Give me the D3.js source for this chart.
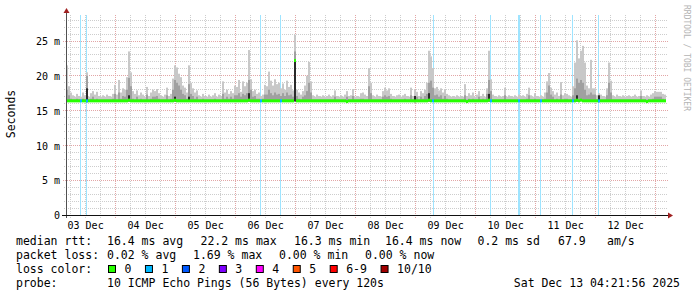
<!DOCTYPE html>
<meta charset="utf-8">

<script src="https://d3js.org/d3.v7.min.js"></script>

<style type="text/css">

body { margin:0; background:#fff; }
svg { display:block; font-family:"DejaVu Sans Mono", monospace; }
.legend text { font-size:11.5px; fill:#000; }
.axis text { font-family:"DejaVu Sans Mono", monospace; font-size:10px; fill:#000; }

</style>

<body>
</body>

<script>

// ten days ending Sat Dec 13 04:21:56 2025, one column every 48 minutes
var startTime = Date.UTC(2025, 11, 3, 4, 21, 56);
var endTime = Date.UTC(2025, 11, 13, 4, 21, 56);
var stepMs = 48 * 60 * 1000;

// median rtt per column (ms)
var medianRtt = [
  16.4,16.4,16.4,16.4,16.4,16.4,16.4,16.4,16.4,16.4,16.4,16.4,16.4,16.4,16.4,16.4,16.4,16.4,16.4,16.4,
  16.4,16.4,16.4,16.4,16.4,16.4,16.4,16.4,16.4,16.4,16.4,16.5,16.4,16.4,16.4,16.4,16.4,16.4,16.4,16.4,
  16.4,16.4,16.4,16.4,16.4,16.4,16.4,16.4,16.4,16.4,16.4,16.4,16.4,16.4,16.5,16.4,16.4,16.4,16.4,16.4,
  16.4,16.4,16.4,16.4,16.4,16.4,16.4,16.4,16.4,16.4,16.4,16.4,16.4,16.4,16.4,16.4,16.4,16.4,16.4,16.4,
  16.4,16.4,16.4,16.4,16.4,16.4,16.4,16.4,16.4,16.4,16.4,16.5,16.4,16.4,16.4,16.4,16.4,16.4,16.4,16.4,
  16.4,16.4,16.4,16.4,16.4,16.4,16.4,16.4,16.4,16.4,16.4,16.4,16.4,16.4,22.2,16.4,16.4,16.4,16.4,16.4,
  16.4,16.4,16.4,16.4,16.4,16.4,16.4,16.4,16.4,16.4,16.4,16.4,16.4,16.4,16.4,16.4,16.4,16.4,16.4,16.4,
  16.3,16.4,16.4,16.4,16.4,16.4,16.4,16.4,16.4,16.4,16.4,16.4,16.4,16.4,16.4,16.4,16.4,16.4,16.4,16.4,
  16.4,16.4,16.4,16.4,16.4,16.4,16.4,16.4,16.4,16.4,16.4,16.4,16.4,16.4,16.4,16.4,16.4,16.4,16.4,16.4,
  16.4,16.5,16.4,16.4,16.4,16.4,16.4,16.4,16.4,16.4,16.4,16.4,16.4,16.4,16.4,16.4,16.4,16.4,16.4,16.4,
  16.3,16.4,16.4,16.4,16.4,16.4,16.4,16.4,16.4,16.4,16.4,16.5,16.4,16.4,16.4,16.4,16.4,16.4,16.4,16.4,
  16.4,16.4,16.4,16.4,16.4,16.4,16.4,16.4,16.4,16.4,16.4,16.4,16.4,16.4,16.4,16.4,16.4,16.4,16.4,16.4,
  16.4,16.4,16.4,16.4,16.4,16.4,16.4,16.4,16.4,16.4,16.4,16.4,16.4,16.4,16.4,16.5,16.4,16.5,16.4,16.4,
  16.4,16.4,16.4,16.4,16.4,16.4,16.4,16.4,16.4,16.4,16.4,16.4,16.4,16.4,16.4,16.4,16.4,16.4,16.4,16.4,
  16.4,16.4,16.4,16.4,16.4,16.4,16.4,16.4,16.4,16.4,16.3,16.4,16.4,16.4,16.4,16.4,16.4,16.4,16.4,16.4
];

// slowest ping per column (top of the light smoke)
var maxRtt = [
  21.5,18.5,17.6,17.2,17.0,17.4,17.1,17.0,17.6,17.2,20.5,17.0,17.5,17.8,17.3,17.7,17.1,17.0,17.2,17.0,
  17.3,17.1,17.0,17.4,18.7,17.3,19.4,17.6,18.2,18.0,19.8,23.5,20.5,17.8,17.4,17.9,17.2,17.6,17.3,17.0,
  18.4,17.1,17.6,18.0,17.8,18.1,17.5,17.2,17.0,17.3,18.3,17.1,17.4,19.6,21.5,21.2,20.3,19.8,18.6,18.3,
  17.6,21.5,19.0,18.2,17.6,17.9,17.2,17.0,17.4,17.1,17.0,17.3,17.0,17.2,17.5,17.0,17.3,17.1,19.2,17.6,
  18.0,17.4,17.8,17.5,18.6,18.4,19.4,17.7,19.2,18.5,19.0,23.7,19.5,17.8,18.0,17.4,17.6,17.1,17.3,18.7,
  18.5,20.6,19.3,18.6,19.5,18.8,19.0,18.2,18.9,18.0,19.3,18.4,18.7,17.9,25.9,18.0,17.6,17.3,17.8,18.6,
  20.0,22.0,19.2,17.2,17.0,17.3,17.1,17.0,17.2,17.0,17.1,17.3,17.0,17.2,17.9,17.1,17.0,17.2,17.0,17.3,
  17.8,17.1,17.2,18.1,17.0,17.1,17.0,17.5,17.6,17.3,17.1,21.1,19.0,17.2,17.0,17.3,17.1,17.0,17.8,18.3,
  17.9,18.2,17.4,17.1,17.0,17.2,17.3,17.0,17.2,17.4,17.1,17.0,18.3,17.1,18.0,17.7,17.1,17.8,17.5,18.0,
  19.0,23.6,22.8,21.1,18.2,18.4,17.9,18.2,17.6,18.0,17.4,17.2,17.0,17.1,17.0,17.2,17.0,17.1,17.0,18.8,
  17.1,17.5,17.2,17.6,17.0,17.3,17.8,17.1,17.4,17.0,18.2,23.6,19.5,17.3,17.1,17.0,17.2,17.0,17.1,18.3,
  17.0,17.2,17.1,17.0,17.2,17.0,17.3,17.1,17.2,17.0,17.4,18.3,17.2,17.0,17.5,17.1,17.0,17.2,17.0,17.6,
  19.2,20.4,18.3,17.8,17.3,17.6,17.1,19.1,17.2,17.5,17.4,17.2,17.0,18.5,21.9,25.1,22.5,23.6,24.3,21.9,
  18.6,18.2,22.3,18.2,18.2,17.2,17.5,17.3,17.1,17.0,18.2,21.9,19.3,17.2,17.0,17.3,17.1,17.0,17.2,17.0,
  17.1,17.2,17.0,17.1,17.3,17.0,17.1,17.9,17.1,17.0,17.2,17.0,17.3,17.5,17.8,17.7,17.7,17.7,17.4,17.3
];

// upper pings per column (top of the darker smoke)
var upperRtt = [
  18.0,17.2,16.7,16.6,16.6,16.7,16.6,16.6,16.7,16.6,20.0,16.6,16.7,17.0,16.6,16.7,16.6,16.6,16.6,16.6,
  16.6,16.6,16.6,16.7,17.4,16.6,17.6,16.7,17.1,17.0,18.0,19.7,18.5,16.7,16.6,17.0,16.6,16.7,16.6,16.6,
  17.3,16.6,16.7,17.0,17.0,17.1,16.7,16.6,16.6,16.6,17.2,16.6,16.7,18.0,19.4,19.0,18.6,18.0,17.4,17.2,
  16.7,18.8,17.4,17.1,16.7,17.0,16.6,16.6,16.7,16.6,16.6,16.6,16.6,16.6,16.7,16.6,16.6,16.6,17.4,16.7,
  17.0,16.7,17.0,16.7,17.2,17.2,17.5,17.0,17.4,17.2,17.5,19.4,18.0,17.0,17.1,16.7,16.7,16.6,16.7,17.3,
  17.3,18.0,17.5,17.2,17.6,17.3,17.4,17.1,17.5,17.1,17.6,17.2,17.3,17.0,23.5,17.1,16.7,16.6,17.0,17.2,
  17.8,19.0,17.6,16.6,16.6,16.6,16.6,16.6,16.6,16.6,16.6,16.6,16.6,16.6,17.0,16.6,16.6,16.6,16.6,16.6,
  17.0,16.6,16.6,17.1,16.6,16.6,16.6,16.7,16.7,16.6,16.6,18.5,17.5,16.6,16.6,16.6,16.6,16.6,17.0,17.2,
  17.0,17.1,16.7,16.6,16.6,16.6,16.6,16.6,16.6,16.7,16.6,16.6,17.2,16.6,17.1,17.0,16.6,17.0,16.7,17.1,
  17.4,19.0,19.3,18.3,17.2,17.3,17.0,17.2,16.7,17.1,16.7,16.6,16.6,16.6,16.6,16.6,16.6,16.6,16.6,17.2,
  16.6,16.7,16.6,16.7,16.6,16.6,17.0,16.6,16.7,16.6,17.4,19.4,17.8,16.6,16.6,16.6,16.6,16.6,16.6,17.2,
  16.6,16.6,16.6,16.6,16.6,16.6,16.6,16.6,16.6,16.6,16.7,17.2,16.6,16.6,16.7,16.6,16.6,16.6,16.6,16.7,
  17.6,18.6,17.3,17.0,16.6,16.7,16.6,17.3,16.6,16.7,16.7,16.6,16.6,17.2,18.2,19.6,19.0,19.4,19.0,18.0,
  17.2,17.3,17.6,17.3,17.3,16.6,16.7,16.6,16.6,16.6,17.2,19.0,17.6,16.6,16.6,16.6,16.6,16.6,16.6,16.6,
  16.6,16.6,16.6,16.6,16.6,16.6,16.6,17.1,16.6,16.6,16.6,16.6,16.6,16.7,17.0,17.0,17.0,17.0,16.7,16.6
];

// dense smoke close to the median: [column time, low ms, high ms]
var darkSmoke = [
  ["2025-12-03T12:21:56Z", 16.2, 18.2],
  ["2025-12-04T05:09:56Z", 16.3, 17.2],
  ["2025-12-04T23:33:56Z", 16.3, 17.0],
  ["2025-12-05T05:09:56Z", 16.3, 17.0],
  ["2025-12-06T05:09:56Z", 16.3, 17.5],
  ["2025-12-06T23:33:56Z", 16.3, 22.2],
  ["2025-12-08T23:33:56Z", 16.2, 17.1],
  ["2025-12-09T05:09:56Z", 16.3, 17.5],
  ["2025-12-10T05:09:56Z", 16.3, 17.4],
  ["2025-12-11T16:21:56Z", 16.3, 17.2],
  ["2025-12-12T01:09:56Z", 16.2, 17.2]
];

// packet loss events: [time, lost pings out of 10]
var lossEvents = [
  ["2025-12-03T09:57:56Z", 1],
  ["2025-12-03T12:21:56Z", 1],
  ["2025-12-06T09:57:56Z", 1],
  ["2025-12-06T17:57:56Z", 1],
  ["2025-12-09T07:09:56Z", 1],
  ["2025-12-10T05:57:56Z", 1],
  ["2025-12-10T17:09:56Z", 1],
  ["2025-12-10T17:33:56Z", 1],
  ["2025-12-11T01:57:56Z", 1],
  ["2025-12-11T14:45:56Z", 1],
  ["2025-12-12T01:09:56Z", 1]
];

var lossLabels = ["0", "1", "2", "3", "4", "5", "6-9", "10/10"];
var lossColors = ["#26ff00", "#00b8ff", "#0059ff", "#7e00ff", "#ff00ff", "#ff5500", "#ff0000", "#a10000"];

var yTicks = [0, 5, 10, 15, 20, 25];

var legendRows = [
  [[16, "median rtt:"], [107, "16.4 ms avg"], [200.5, "22.2 ms max"], [294, "16.3 ms min"],
   [385, "16.4 ms now"], [477.5, "0.2 ms sd"], [558, "67.9"], [607, "am/s"]],
  [[16, "packet loss:"], [107, "0.02 % avg"], [193, "1.69 % max"], [279, "0.00 % min"], [365, "0.00 % now"]],
  [[16, "loss color:"]],
  [[16, "probe:"], [107, "10 ICMP Echo Pings (56 Bytes) every 120s"]]
];
var stampText = "Sat Dec 13 04:21:56 2025";

//variable definitions
var W = 697, H = 297;
var plotLeft = 66, plotRight = 666, plotTop = 15, plotBottom = 215;

var columns = medianRtt.map(function(m, i) {
  return {t: new Date(startTime + i * stepMs), med: m, max: maxRtt[i], up: upperRtt[i]};
});
darkSmoke.forEach(function(d) { d.t = new Date(d[0]); });
lossEvents.forEach(function(d) { d.t = new Date(d[0]); });

var svg = d3.select('body').append('svg')
  .attr('width', W)
  .attr('height', H);

svg.append('rect').attr('width', W).attr('height', H).attr('fill', '#fff');

//scales
var x = d3.scaleUtc()
  .domain([new Date(startTime), new Date(endTime)])
  .range([plotLeft, plotRight]);

var y = d3.scaleLinear()
  .domain([0, 200 / 6.96])
  .range([plotBottom, plotTop]);

function px(v) { return Math.floor(v) + 0.5; }
function colW(t) { return x(new Date(+t + stepMs)) - x(t); }

// grid
var days = d3.utcDay.range(new Date(startTime), new Date(endTime));
var quarters = d3.utcHour.every(6).range(new Date(startTime), new Date(endTime))
  .filter(function(d) { return d.getUTCHours() !== 0; });
var yMinor = d3.range(1, 29).filter(function(v) { return v % 5 !== 0; });
var yMajor = yTicks.filter(function(v) { return v > 0; });

var grid = svg.append('g').attr('class', 'grid');

grid.selectAll('.vminor').data(quarters).enter().append('line')
  .attr('x1', function(d) { return px(x(d)); }).attr('x2', function(d) { return px(x(d)); })
  .attr('y1', plotTop).attr('y2', plotBottom + 3)
  .attr('stroke', '#cdcdcd').attr('stroke-dasharray', '1,1');

grid.selectAll('.hminor').data(yMinor).enter().append('line')
  .attr('x1', plotLeft - 2).attr('x2', plotRight + 2)
  .attr('y1', function(d) { return px(y(d)); }).attr('y2', function(d) { return px(y(d)); })
  .attr('stroke', '#cdcdcd').attr('stroke-dasharray', '1,1');

grid.selectAll('.vmajor').data(days).enter().append('line')
  .attr('x1', function(d) { return px(x(d)); }).attr('x2', function(d) { return px(x(d)); })
  .attr('y1', plotTop).attr('y2', plotBottom + 4)
  .attr('stroke', '#e2a6a6').attr('stroke-dasharray', '1,1');

grid.selectAll('.hmajor').data(yMajor).enter().append('line')
  .attr('x1', plotLeft - 3).attr('x2', plotRight + 2)
  .attr('y1', function(d) { return px(y(d)); }).attr('y2', function(d) { return px(y(d)); })
  .attr('stroke', '#e2a6a6').attr('stroke-dasharray', '1,1');

// loss background lines
svg.append('g').selectAll('rect').data(lossEvents).enter().append('rect')
  .attr('x', function(d) { return Math.floor(x(d.t)); })
  .attr('width', 1)
  .attr('y', plotTop).attr('height', plotBottom - plotTop)
  .attr('fill', function(d) { return d3.interpolateRgb(lossColors[d[1]], '#fff')(0.62); });

// smoke
var smoke = svg.append('g').attr('class', 'smoke');

smoke.selectAll('.light').data(columns).enter().append('rect')
  .attr('x', function(d) { return x(d.t); })
  .attr('width', function(d) { return colW(d.t); })
  .attr('y', function(d) { return y(d.max); })
  .attr('height', function(d) { return Math.max(0, y(d.med) - y(d.max)); })
  .attr('fill', '#c8c8c8');

smoke.selectAll('.mid').data(columns).enter().append('rect')
  .attr('x', function(d) { return x(d.t); })
  .attr('width', function(d) { return colW(d.t); })
  .attr('y', function(d) { return y(d.up); })
  .attr('height', function(d) { return Math.max(0, y(d.med) - y(d.up)); })
  .attr('fill', '#a0a0a0');

smoke.selectAll('.dark').data(darkSmoke).enter().append('rect')
  .attr('x', function(d) { return x(d.t); })
  .attr('width', function(d) { return colW(d.t); })
  .attr('y', function(d) { return y(d[2]); })
  .attr('height', function(d) { return y(d[1]) - y(d[2]); })
  .attr('fill', '#2a2a2a');

// median line, coloured by loss
function lossIn(t) {
  var hit = lossEvents.filter(function(e) { return e.t >= t && e.t < new Date(+t + stepMs); });
  return hit.length ? hit[0][1] : 0;
}

svg.append('g').selectAll('rect').data(columns).enter().append('rect')
  .attr('x', function(d) { return x(d.t); })
  .attr('width', function(d) { return colW(d.t); })
  .attr('y', function(d) { return y(d.med) - 1.5; })
  .attr('height', 3)
  .attr('fill', function(d) { return lossColors[lossIn(d.t)]; });

// axes
var yAxis = d3.axisLeft(y)
  .tickValues(yTicks)
  .tickSize(0)
  .tickPadding(6)
  .tickFormat(function(d) { return d === 0 ? "0" : d + " m"; });

svg.append('g')
  .attr('class', 'y axis')
  .attr('transform', 'translate(' + plotLeft + ',0)')
  .call(yAxis)
  .call(function(g) { g.select('.domain').remove(); })
  .selectAll('text').attr('dy', '0.36em');

var noons = days.map(function(d) { return d3.utcHour.offset(d, -12); });
var xAxis = d3.axisBottom(x)
  .tickValues(noons)
  .tickSize(0)
  .tickPadding(5)
  .tickFormat(d3.utcFormat('%d %b'));

svg.append('g')
  .attr('class', 'x axis')
  .attr('transform', 'translate(0,' + plotBottom + ')')
  .call(xAxis)
  .call(function(g) { g.select('.domain').remove(); })
  .selectAll('text').attr('dy', '0.9em');

svg.append('line')
  .attr('x1', plotLeft + 0.5).attr('x2', plotLeft + 0.5)
  .attr('y1', plotBottom + 3).attr('y2', plotTop - 3)
  .attr('stroke', '#505050');
svg.append('line')
  .attr('x1', plotLeft - 4).attr('x2', plotRight + 3)
  .attr('y1', plotBottom + 0.5).attr('y2', plotBottom + 0.5)
  .attr('stroke', '#111');

svg.append('path')
  .attr('d', 'M' + (plotLeft - 2.5) + ',' + (plotTop - 2) + 'L' + (plotLeft + 0.5) + ',' + (plotTop - 7) + 'L' + (plotLeft + 3.5) + ',' + (plotTop - 2) + 'Z')
  .attr('fill', '#a02020');
svg.append('path')
  .attr('d', 'M' + (plotRight + 2) + ',' + (plotBottom - 2.5) + 'L' + (plotRight + 7) + ',' + (plotBottom + 0.5) + 'L' + (plotRight + 2) + ',' + (plotBottom + 3.5) + 'Z')
  .attr('fill', '#a02020');

svg.append('text')
  .attr('transform', 'translate(15,114) rotate(-90)')
  .attr('text-anchor', 'middle')
  .style('font-size', '11.5px')
  .text('Seconds');

svg.append('text')
  .attr('transform', 'translate(684,5) rotate(90)')
  .style('font-size', '8px')
  .attr('fill', '#b4b4b4')
  .text('RRDTOOL / TOBI OETIKER');

// legend
var legend = svg.append('g').attr('class', 'legend');
var baselines = [245, 259, 273, 287];

legendRows.forEach(function(row, r) {
  legend.selectAll('.row' + r).data(row).enter().append('text')
    .attr('x', function(d) { return d[0]; })
    .attr('y', baselines[r])
    .text(function(d) { return d[1]; });
});

legend.append('text')
  .attr('x', 680).attr('y', baselines[3])
  .attr('text-anchor', 'end')
  .text(stampText);

var sx = 108.5;
lossLabels.forEach(function(lbl, i) {
  legend.append('rect')
    .attr('x', sx).attr('y', 265.5)
    .attr('width', 7).attr('height', 7)
    .attr('fill', lossColors[i]).attr('stroke', '#000');
  legend.append('text')
    .attr('x', sx + 16).attr('y', baselines[2])
    .text(lbl);
  sx += 16 + lbl.length * 6.95 + 14;
});

</script>
